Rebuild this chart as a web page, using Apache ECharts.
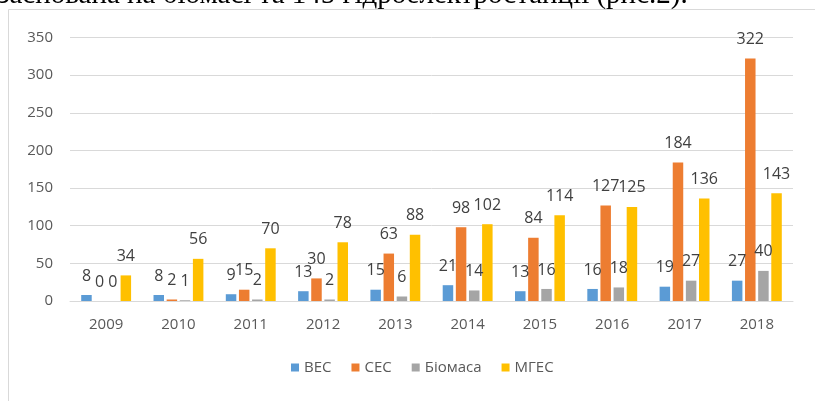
<!DOCTYPE html>
<html>
<head>
<meta charset="utf-8">
<script src="https://cdn.jsdelivr.net/npm/echarts@6/dist/echarts.min.js"></script>
<style>
html,body{margin:0;padding:0;background:#fff;}
#chart{width:815px;height:401px;}
</style>
</head>
<body>
<div id="chart"></div>
<script>
const categories = ['2009','2010','2011','2012','2013','2014','2015','2016','2017','2018'];
const seriesNames = ['ВЕС','СЕС','Біомаса','МГЕС'];
const vesValues = [8, 8, 9, 13, 15, 21, 13, 16, 19, 27];
const sesValues = [0, 2, 15, 30, 63, 98, 84, 127, 184, 322];
const biomassValues = [0, 1, 2, 2, 6, 14, 16, 18, 27, 40];
const mgesValues = [34, 56, 70, 78, 88, 102, 114, 125, 136, 143];
const yTicks = [0, 50, 100, 150, 200, 250, 300, 350];
const headerText = 'заснована на біомасі та 145 гідроелектростанції (рис.2).';

const colors = ['#5B9BD5', '#ED7D31', '#A5A5A5', '#FFC000'];
const font = "'Open Sans', 'Noto Sans', sans-serif";
const allValues = [vesValues, sesValues, biomassValues, mgesValues];

const chart = echarts.init(document.getElementById('chart'), null, {renderer: 'canvas'});
const series = seriesNames.map((name, i) => ({
  name: name,
  type: 'bar',
  data: allValues[i],
  itemStyle: {color: colors[i]},
  barGap: '25%',
  barCategoryGap: '31%',
  label: {
    show: true,
    position: 'top',
    distance: 11,
    color: '#404040',
    fontFamily: font,
    fontSize: 16
  }
}));

chart.setOption({
  backgroundColor: '#ffffff',
  animation: false,
  grid: {left: 70, right: 22, top: 37.5, bottom: 100},
  legend: {
    data: seriesNames,
    bottom: 21,
    left: 286,
    icon: 'rect',
    itemWidth: 8,
    itemHeight: 8,
    itemGap: 20,
    textStyle: {color: '#595959', fontFamily: font, fontSize: 15}
  },
  xAxis: {
    type: 'category',
    data: categories,
    axisLine: {lineStyle: {color: '#d9d9d9'}},
    axisTick: {show: false},
    axisLabel: {color: '#595959', fontFamily: font, fontSize: 15, margin: 16}
  },
  yAxis: {
    type: 'value',
    min: yTicks[0],
    max: yTicks[yTicks.length - 1],
    interval: 50,
    axisLine: {show: false},
    axisTick: {show: false},
    splitLine: {lineStyle: {color: '#d9d9d9', width: 1}},
    axisLabel: {color: '#595959', fontFamily: font, fontSize: 15, margin: 17}
  },
  graphic: [
    {
      type: 'rect',
      shape: {x: 8.5, y: 9.5, width: 1000, height: 600},
      style: {fill: 'none', stroke: '#d9d9d9', lineWidth: 1},
      silent: true
    },
    {
      type: 'text',
      left: -2,
      top: -19,
      style: {
        text: headerText,
        fill: '#000',
        font: "29px 'Liberation Serif', 'DejaVu Serif', serif"
      },
      silent: true
    }
  ],
  series: series
});
</script>
</body>
</html>
